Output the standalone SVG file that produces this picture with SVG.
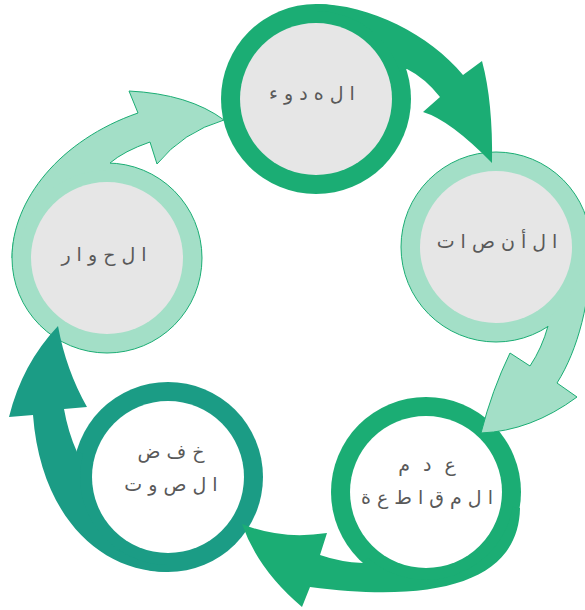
<svg xmlns="http://www.w3.org/2000/svg" width="585" height="610" viewBox="0 0 585 610">
<style>
.bg{fill:#ffffff}
.dark{fill:#1bad74}
.teal{fill:#1b9c85}
.light{fill:#a3dfc7}
.lightring{fill:#a3dfc7;stroke:#1bad74;stroke-width:1}
.line{fill:none;stroke:#1bad74;stroke-width:1;stroke-linejoin:miter}
.gray{fill:#e6e6e6}
.white{fill:#ffffff}
.t{font-family:"DejaVu Sans","Noto Sans",sans-serif;font-size:19px;fill:#595959;text-anchor:middle}
.wide{word-spacing:7px}
</style>
<rect class="bg" x="0" y="0" width="585" height="610"/>
<g id="node-hudu">
<circle class="dark" cx="316" cy="99" r="95"/>
<circle class="gray" cx="316" cy="99" r="76"/>
<text class="t" x="312" y="100">ا ل ه د و ء</text>
</g>
<g id="node-insat">
<circle class="lightring" cx="496" cy="247" r="95"/>
<circle class="gray" cx="496" cy="247" r="76"/>
<text class="t" x="497" y="248">ا ل أ ن ص ا ت</text>
</g>
<g id="node-adam">
<circle class="dark" cx="426" cy="492" r="95"/>
<circle class="white" cx="426" cy="492" r="76"/>
<text class="t wide" x="427" y="471">ع د م</text>
<text class="t" x="427" y="504">ا ل م ق ا ط ع ة</text>
</g>
<g id="node-khafd">
<circle class="teal" cx="168" cy="477" r="95"/>
<circle class="white" cx="168" cy="477" r="76"/>
<text class="t" x="171" y="458">خ ف ض</text>
<text class="t" x="171" y="491">ا ل ص و ت</text>
</g>
<g id="node-hiwar">
<circle class="lightring" cx="107" cy="258" r="95"/>
<circle class="gray" cx="107" cy="258" r="76"/>
<text class="t" x="104" y="261">ا ل ح و ا ر</text>
</g>
<g id="connectors">
<path class="dark" d="M316,4 C370,4 430,35 463,75 L482,61 Q493,102 492,163 Q450,120 423,112 L440,97 Q425,78 407,69 L399.6,71.5 A88,88 0 0 0 316,11 Z"/>
<path class="light" d="M591,247 C591,300 578,350 557,383 L577,397 Q531,431 481,433 Q492,390 510,353 L530,366 Q542,348 548,326 L544.4,320.5 A88,88 0 0 0 584,247 Z"/>
<path class="line" d="M591,247 C591,300 578,350 557,383 L577,397 Q531,431 481,433 Q492,390 510,353 L530,366 Q542,348 548,326"/>
<path class="dark" d="M520,508 C519,580 440,604 310,587 L302,607 Q258,570 242,524 Q281,540 327,533 L320,555 Q340,562 363,563 L367.6,557.8 A88,88 0 0 0 512.7,506.8 Z"/>
<path class="teal" d="M168,572 C95,572 40,510 33,415 L9,417 Q22,364 58,326 Q66,370 87,407 L64,409 Q68,432 77,452 L83.2,453.6 A88,88 0 0 0 168,565 Z"/>
<path class="light" d="M12,258 C12,200 60,140 138,113 L129,91 Q189,94 224,120 Q183,132 157,164 L150,142 Q124,151 110,163 L109.8,170 A88,88 0 0 0 19,258 Z"/>
<path class="line" d="M12,258 C12,200 60,140 138,113 L129,91 Q189,94 224,120 Q183,132 157,164 L150,142 Q124,151 110,163"/>
</g>
</svg>
